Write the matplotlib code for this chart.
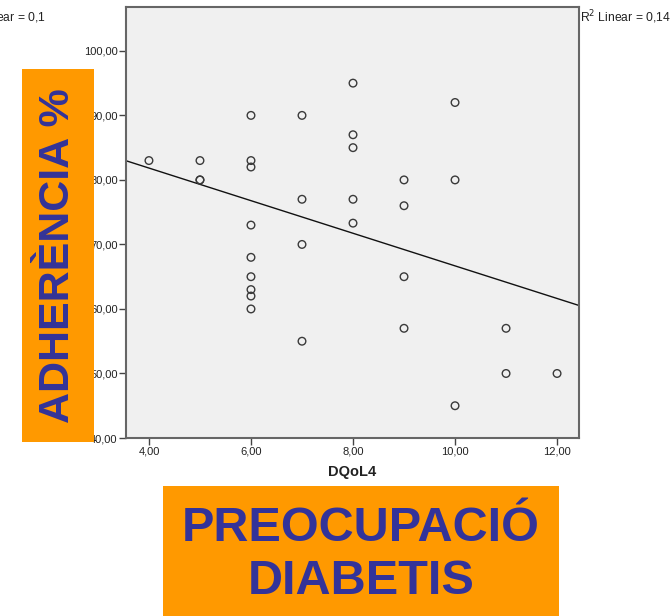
import matplotlib
matplotlib.use("Agg")
import matplotlib.pyplot as plt
from matplotlib.patches import Rectangle
from matplotlib.ticker import FuncFormatter
import numpy as np

plt.rcParams['font.family'] = ['Liberation Sans', 'DejaVu Sans']

# DQoL4 score vs adherence (%)
dqol4 = [4,
         5, 5, 5,
         6, 6, 6, 6, 6, 6, 6, 6, 6,
         7, 7, 7, 7,
         8, 8, 8, 8, 8,
         9, 9, 9, 9,
         10, 10, 10,
         11, 11,
         12]
adherence = [83,
             83, 80, 80,
             90, 83, 82, 73, 68, 65, 63, 62, 60,
             90, 77, 70, 55,
             95, 87, 85, 77, 73.3,
             80, 76, 65, 57,
             92, 80, 45,
             57, 50,
             50]

x_ticks = [4, 6, 8, 10, 12]
y_ticks = [40, 50, 60, 70, 80, 90, 100]
x_label = "DQoL4"
y_title = "ADHERÈNCIA %"
x_title = "PREOCUPACIÓ\nDIABETIS"
r2_right = "R$^2$ Linear = 0,143"
r2_left = "R$^2$ Linear = 0,1"

orange = "#FF9900"
navy = "#333399"

W, H = 670, 616
fig = plt.figure(figsize=(W / 100, H / 100), dpi=100)

ax = fig.add_axes([126 / W, (H - 438) / H, (579 - 126) / W, (438 - 7) / H])
ax.set_facecolor("#F0F0F0")
ax.set_xlim(3.55, 12.43)
ax.set_ylim(40, 106.8)

ax.scatter(dqol4, adherence, s=30, facecolors="none", edgecolors="#3a3a3a",
           linewidths=1.0, zorder=3)

# least-squares fit line across the whole x range
slope, intercept = np.polyfit(dqol4, adherence, 1)
xs = np.array(ax.get_xlim())
ax.plot(xs, slope * xs + intercept, color="#111111", lw=1.0, zorder=2)

fmt = FuncFormatter(lambda v, p: f"{v:.2f}".replace(".", ","))
ax.set_xticks(x_ticks)
ax.set_yticks(y_ticks)
ax.xaxis.set_major_formatter(fmt)
ax.yaxis.set_major_formatter(fmt)
ax.tick_params(axis="both", direction="out", length=5, width=1.0,
               color="#444444", labelsize=8, labelcolor="#222222", pad=1)
for sp in ax.spines.values():
    sp.set_color("#666666")
    sp.set_linewidth(1.5)

ax.set_xlabel(x_label, fontsize=10.5, fontweight="bold", color="#222222",
              labelpad=6)

fig.text(580 / W, 1 - 17 / H, r2_right, fontsize=8.7, color="#222222",
         ha="left", va="center")
fig.text(46 / W, 1 - 17 / H, r2_left, fontsize=8.7, color="#222222",
         ha="right", va="center")

# orange title boxes
fig.patches.append(Rectangle((22 / W, (H - 442) / H), (94 - 22) / W,
                             (442 - 69) / H, transform=fig.transFigure,
                             facecolor=orange, edgecolor="none", zorder=5))
fig.patches.append(Rectangle((163 / W, 0), (559 - 163) / W, (H - 486) / H,
                             transform=fig.transFigure, facecolor=orange,
                             edgecolor="none", zorder=5))

fig.text(58 / W, 1 - 256 / H, y_title, rotation=90, fontsize=31,
         fontweight="bold", color=navy, ha="center", va="center", zorder=6)
fig.text(361 / W, 1 - 555 / H, x_title, fontsize=35, fontweight="bold",
         color=navy, ha="center", va="center", linespacing=1.22, zorder=6)

fig.savefig("out.png", dpi=100)
